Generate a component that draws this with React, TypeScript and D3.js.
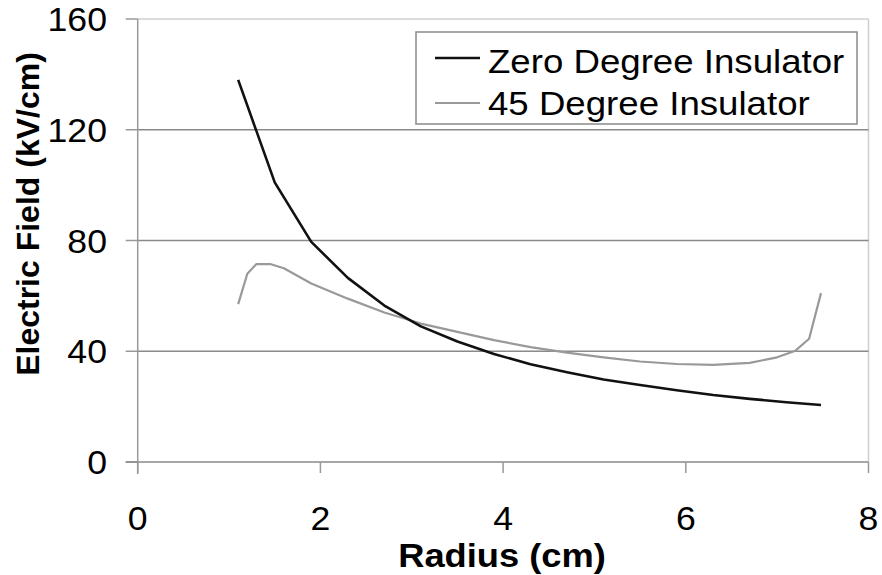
import React from "react";
import * as d3 from "d3";

const zeroRadius = [1.1, 1.5, 1.9, 2.3, 2.7, 3.1, 3.5, 3.9, 4.3, 4.7, 5.1, 5.5, 5.9, 6.3, 6.7, 7.1, 7.48];
const zeroField = [138, 101, 79.5, 66.5, 56.5, 49, 43.5, 39, 35.3, 32.4, 29.8, 27.8, 25.9, 24.2, 22.8, 21.6, 20.6];

const degRadius = [1.1, 1.2, 1.3, 1.45, 1.6, 1.9, 2.3, 2.7, 3.1, 3.5, 3.9, 4.3, 4.7, 5.1, 5.5, 5.9, 6.3, 6.7, 7.0, 7.2, 7.35, 7.48];
const degField = [57, 68, 71.5, 71.5, 70, 64.5, 59, 54, 50, 47, 44, 41.5, 39.5, 37.8, 36.3, 35.4, 35.1, 35.8, 37.8, 40.2, 44.5, 61];

const xTicks = [0, 2, 4, 6, 8];
const yTicks = [0, 40, 80, 120, 160];
const seriesNames = ["Zero Degree Insulator", "45 Degree Insulator"];

const W = 882;
const H = 575;
const FONT = "'Liberation Sans', Arial, Helvetica, sans-serif";

export default function App() {
  const x = d3.scaleLinear().domain([0, 8]).range([137.7, 868.5]);
  const y = d3.scaleLinear().domain([0, 160]).range([462, 19]);

  const line = d3
    .line<[number, number]>()
    .x((d) => x(d[0]))
    .y((d) => y(d[1]));

  const zeroPts: [number, number][] = zeroRadius.map((r, i) => [r, zeroField[i]]);
  const degPts: [number, number][] = degRadius.map((r, i) => [r, degField[i]]);

  return (
    <svg
      width={W}
      height={H}
      style={{ position: "absolute", left: 0, top: 0, background: "#fff" }}
    >
      <rect x={0} y={0} width={W} height={H} fill="#fff" />
      {/* plot border (top/right) */}
      <line x1={x(0)} x2={x(8)} y1={y(160)} y2={y(160)} stroke="#cfcfcf" strokeWidth={1.5} />
      <line x1={x(8)} x2={x(8)} y1={y(160)} y2={y(0)} stroke="#cfcfcf" strokeWidth={1.5} />
      {/* gridlines */}
      {yTicks
        .filter((t) => t !== 0 && t !== 160)
        .map((t) => (
          <line key={"g" + t} x1={x(0)} x2={x(8)} y1={y(t)} y2={y(t)} stroke="#8a8a8a" strokeWidth={1.5} />
        ))}
      {/* y axis */}
      <line x1={x(0)} x2={x(0)} y1={y(160)} y2={y(0) + 12} stroke="#999" strokeWidth={1.5} />
      {yTicks.map((t) => (
        <line key={"yt" + t} x1={x(0) - 12} x2={x(0)} y1={y(t)} y2={y(t)} stroke="#999" strokeWidth={1.5} />
      ))}
      {yTicks.map((t) => (
        <text
          key={"yl" + t}
          transform={`translate(107,${y(t) + 12}) scale(1.08,1)`}
          textAnchor="end"
          fontFamily={FONT}
          fontSize={33}
          fill="#000"
        >
          {t}
        </text>
      ))}
      {/* x axis */}
      <line x1={x(0) - 12} x2={x(8)} y1={y(0)} y2={y(0)} stroke="#8a8a8a" strokeWidth={1.5} />
      {xTicks.map((t) => (
        <line key={"xt" + t} x1={x(t)} x2={x(t)} y1={y(0)} y2={y(0) + 11} stroke="#999" strokeWidth={1.5} />
      ))}
      {xTicks.map((t) => (
        <text
          key={"xl" + t}
          transform={`translate(${x(t)},530) scale(1.08,1)`}
          textAnchor="middle"
          fontFamily={FONT}
          fontSize={33}
          fill="#000"
        >
          {t}
        </text>
      ))}
      {/* axis titles */}
      <text
        transform={`translate(502,567) scale(1.1,1)`}
        textAnchor="middle"
        fontFamily={FONT}
        fontWeight="bold"
        fontSize={33}
        fill="#000"
      >
        Radius (cm)
      </text>
      <text
        transform={`translate(38.5,214) rotate(-90)`}
        textAnchor="middle"
        fontFamily={FONT}
        fontWeight="bold"
        fontSize={32}
        fill="#000"
      >
        Electric Field (kV/cm)
      </text>
      {/* series */}
      <path d={line(degPts) || ""} fill="none" stroke="#999" strokeWidth={2.2} strokeLinejoin="round" />
      <path d={line(zeroPts) || ""} fill="none" stroke="#111" strokeWidth={2.6} strokeLinejoin="round" />
      {/* legend */}
      <rect x={416} y={32} width={441} height={92} fill="#fff" stroke="#8a8a8a" strokeWidth={1.5} />
      <line x1={435} x2={480} y1={58} y2={58} stroke="#111" strokeWidth={2.6} />
      <line x1={435} x2={480} y1={103} y2={103} stroke="#999" strokeWidth={2.2} />
      <text transform={`translate(488,73) scale(1.11,1)`} fontFamily={FONT} fontSize={33} fill="#000">
        {seriesNames[0]}
      </text>
      <text transform={`translate(488,115) scale(1.11,1)`} fontFamily={FONT} fontSize={33} fill="#000">
        {seriesNames[1]}
      </text>
    </svg>
  );
}
